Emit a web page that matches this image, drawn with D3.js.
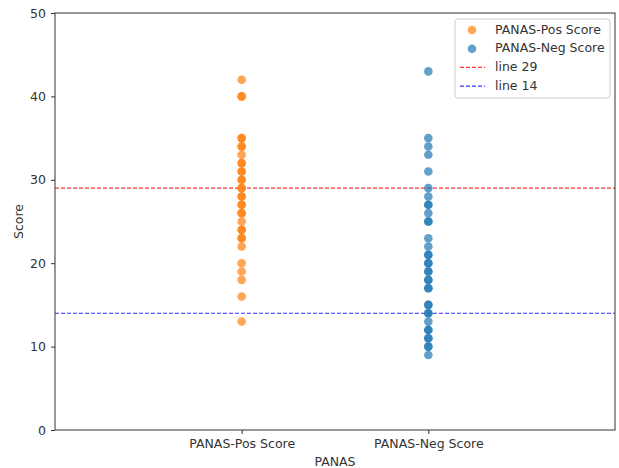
<!DOCTYPE html>
<html>
<head>
<meta charset="utf-8">
<script src="https://cdn.jsdelivr.net/npm/d3@7"></script>
<style>
  body { margin: 0; background: #fff; }
  text { font-family: "DejaVu Sans", sans-serif; fill: #333; }
</style>
</head>
<body>
<div id="chart"></div>
<script>
const categories = ['PANAS-Pos Score', 'PANAS-Neg Score'];
const posScores = [42, 40, 40, 35, 35, 34, 34, 33, 32, 32, 31, 31, 30, 30, 29, 29, 28, 28, 27, 27, 26, 26,
  25, 24, 24, 23, 23, 22, 20, 19, 18, 16, 13];
const negScores = [43, 35, 34, 33, 31, 29, 28, 27, 27, 26, 25, 25, 23, 22, 21, 21, 20, 20, 19, 19, 18, 18,
  17, 17, 15, 15, 14, 14, 13, 12, 12, 11, 11, 10, 10, 9];
const refLines = [{ value: 29, label: 'line 29', color: 'red' }, { value: 14, label: 'line 14', color: 'blue' }];
const yTicks = [0, 10, 20, 30, 40, 50];

const width = 619, height = 468;
const margin = { top: 13, right: 4, bottom: 38, left: 55 };
const w = width - margin.left - margin.right;
const h = height - margin.top - margin.bottom;
const fs = 12.5;

const svg = d3.select('#chart').append('svg').attr('width', width).attr('height', height);
const g = svg.append('g').attr('transform', `translate(${margin.left},${margin.top})`);

// categorical x like matplotlib: index 0,1 with xlim -1..2
const x = d3.scaleLinear().domain([-1, 2]).range([0, w]);
const y = d3.scaleLinear().domain([0, 50]).range([h, 0]);

const series = [
  { name: categories[0], values: posScores, color: '#ff7f0e' },
  { name: categories[1], values: negScores, color: '#1f77b4' }
];

// ref lines
g.selectAll('line.ref').data(refLines).enter().append('line')
  .attr('class', 'ref')
  .attr('x1', 0).attr('x2', w)
  .attr('y1', d => y(d.value)).attr('y2', d => y(d.value))
  .attr('stroke', d => d.color).attr('stroke-opacity', 0.8)
  .attr('stroke-width', 1.2).attr('stroke-dasharray', '4,2');

series.forEach((s, i) => {
  g.selectAll(null).data(s.values).enter().append('circle')
    .attr('cx', x(i)).attr('cy', d => y(d)).attr('r', 4.3)
    .attr('fill', s.color).attr('fill-opacity', 0.7);
});

// axes
const yAxis = g.append('g').call(d3.axisLeft(y).tickValues(yTicks).tickSize(4).tickPadding(5));
const xAxis = g.append('g').attr('transform', `translate(0,${h})`)
  .call(d3.axisBottom(x).tickValues([0, 1]).tickFormat(d => categories[d]).tickSize(4).tickPadding(5));
[yAxis, xAxis].forEach(a => {
  a.select('.domain').remove();
  a.selectAll('.tick line').attr('stroke', '#333');
  a.selectAll('.tick text').attr('font-size', fs).attr('fill', '#333');
});

g.append('rect').attr('width', w).attr('height', h)
  .attr('fill', 'none').attr('stroke', '#333').attr('stroke-width', 1);

svg.append('text').attr('transform', `translate(19,${margin.top + h / 2}) rotate(-90)`)
  .attr('text-anchor', 'middle').attr('dominant-baseline', 'middle').attr('font-size', fs).text('Score');
svg.append('text').attr('x', margin.left + w / 2).attr('y', 466)
  .attr('text-anchor', 'middle').attr('font-size', fs).text('PANAS');

// legend
const lg = svg.append('g').attr('transform', 'translate(455,19)');
lg.append('rect').attr('width', 155).attr('height', 79).attr('rx', 3)
  .attr('fill', '#fff').attr('fill-opacity', 0.8).attr('stroke', '#ccc');
const items = series.map(s => ({ type: 'dot', label: s.name, color: s.color }))
  .concat(refLines.map(r => ({ type: 'line', label: r.label, color: r.color })));
items.forEach((it, i) => {
  const cy = 11 + i * 18.7;
  if (it.type === 'dot') {
    lg.append('circle').attr('cx', 17).attr('cy', cy).attr('r', 4.3)
      .attr('fill', it.color).attr('fill-opacity', 0.7);
  } else {
    lg.append('line').attr('x1', 5).attr('x2', 30).attr('y1', cy).attr('y2', cy)
      .attr('stroke', it.color).attr('stroke-opacity', 0.8).attr('stroke-width', 1.2).attr('stroke-dasharray', '4,2');
  }
  lg.append('text').attr('x', 40).attr('y', cy).attr('dominant-baseline', 'middle')
    .attr('font-size', fs).text(it.label);
});
</script>
</body>
</html>
